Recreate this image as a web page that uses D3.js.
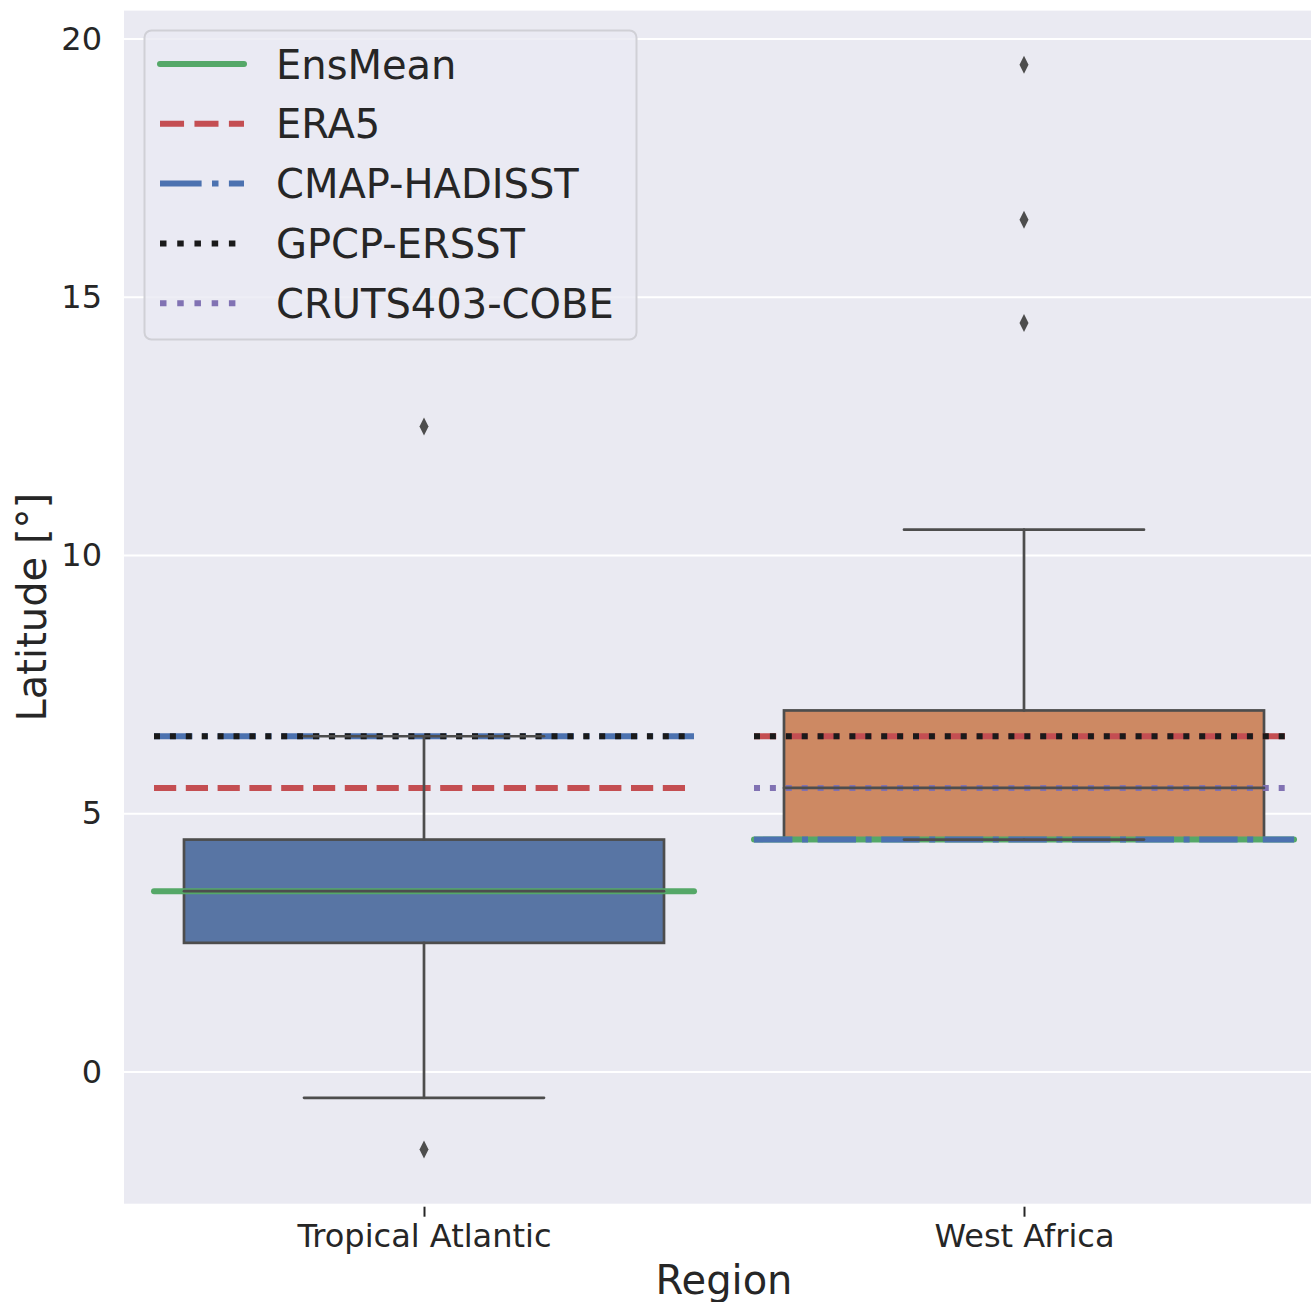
<!DOCTYPE html>
<html>
<head>
<meta charset="utf-8">
<script src="https://cdn.jsdelivr.net/npm/d3@7"></script>
<style>
  body { margin: 0; background: #fff; }
  text { font-family: "DejaVu Sans", sans-serif; fill: #262626; }
</style>
</head>
<body>
<div id="chart"></div>
<script>
// Data
const regions = ["Tropical Atlantic", "West Africa"];
const q1 = [2.5, 4.5];
const median = [3.5, 5.5];
const q3 = [4.5, 7.0];
const whiskerLow = [-0.5, 4.5];
const whiskerHigh = [6.5, 10.5];
const outliers = [[12.5, -1.5], [19.5, 16.5, 14.5]];

const datasets = ["EnsMean", "ERA5", "CMAP-HADISST", "GPCP-ERSST", "CRUTS403-COBE"];
const datasetValues = [
  [3.5, 4.5],
  [5.5, 6.5],
  [6.5, 4.5],
  [6.5, 6.5],
  [null, 5.5]
];
const yTicks = [0, 5, 10, 15, 20];

// Styles
const boxColors = ["#5875a4", "#cd8963"];
const lineColors = ["#55a868", "#c44e52", "#4c72b0", "#1a1a1a", "#8172b3"];
const lw = 6;
const dashUnits = [null, [3.7, 1.6], [6.4, 1.6, 1, 1.6], [1, 1.65], [1, 1.65]];
const dashFor = (k, s) => dashUnits[k] ? dashUnits[k].map(v => v * s).join(",") : null;
const edge = "#4d4d4d";

const width = 1311, height = 1302;
const plot = {left: 124, top: 10.6, right: 1324, bottom: 1203.7};

const svg = d3.select("#chart").append("svg")
  .attr("width", width).attr("height", height);

const x = d3.scaleLinear().domain([-0.5, 1.5]).range([plot.left, plot.right]);
const y = d3.scaleLinear().domain([-2.55, 20.55]).range([plot.bottom, plot.top]);

// background
svg.append("rect")
  .attr("x", plot.left).attr("y", plot.top)
  .attr("width", plot.right - plot.left).attr("height", plot.bottom - plot.top)
  .attr("fill", "#eaeaf2");

// grid
svg.append("g").selectAll("line").data(yTicks).join("line")
  .attr("x1", plot.left).attr("x2", plot.right)
  .attr("y1", d => y(d)).attr("y2", d => y(d))
  .attr("stroke", "#fff").attr("stroke-width", 2);

// y axis labels
const yAxis = d3.axisLeft(y).tickValues(yTicks).tickSize(0).tickPadding(22);
svg.append("g").attr("transform", `translate(${plot.left},0)`).call(yAxis)
  .call(g => g.select(".domain").remove())
  .call(g => g.selectAll("text").style("font-size", "32px").attr("fill", "#262626")
    .style("font-family", "DejaVu Sans, sans-serif"));

// x axis
const xAxis = d3.axisBottom(x).tickValues([0, 1]).tickFormat(i => regions[i]).tickSize(10).tickPadding(8);
svg.append("g").attr("transform", `translate(0,${plot.bottom + 3})`).call(xAxis)
  .call(g => g.select(".domain").remove())
  .call(g => g.selectAll("line").attr("stroke", "#262626").attr("stroke-width", 2))
  .call(g => g.selectAll("text").style("font-size", "32px").attr("fill", "#262626")
    .style("font-family", "DejaVu Sans, sans-serif"));

// axis titles
svg.append("text")
  .attr("x", (plot.left + plot.right) / 2).attr("y", 1294)
  .attr("text-anchor", "middle").style("font-size", "40px")
  .text("Region");
svg.append("text")
  .attr("transform", `translate(46,${(plot.top + plot.bottom) / 2}) rotate(-90)`)
  .attr("text-anchor", "middle").style("font-size", "40px")
  .text("Latitude [°]");

const boxHalf = 0.4, capHalf = 0.2, lineHalf = 0.45;

// boxes (patches go below the lines)
svg.append("g").selectAll("rect").data(regions).join("rect")
  .attr("x", (d, i) => x(i - boxHalf))
  .attr("width", (d, i) => x(i + boxHalf) - x(i - boxHalf))
  .attr("y", (d, i) => y(q3[i]))
  .attr("height", (d, i) => y(q1[i]) - y(q3[i]))
  .attr("fill", (d, i) => boxColors[i])
  .attr("stroke", edge).attr("stroke-width", 2.7);

// dataset horizontal lines
const hl = svg.append("g");
datasets.forEach((name, k) => {
  datasetValues[k].forEach((v, i) => {
    if (v == null) return;
    hl.append("line")
      .attr("x1", x(i - lineHalf)).attr("x2", x(i + lineHalf))
      .attr("y1", y(v)).attr("y2", y(v))
      .attr("stroke", lineColors[k]).attr("stroke-width", lw)
      .attr("stroke-linecap", dashUnits[k] ? "butt" : "round")
      .attr("stroke-dasharray", dashFor(k, lw));
  });
});

// whiskers, caps, medians
const bx = svg.append("g").attr("stroke", edge).attr("stroke-width", 2.7).attr("stroke-linecap", "round");
regions.forEach((r, i) => {
  bx.append("line").attr("x1", x(i)).attr("x2", x(i)).attr("y1", y(q3[i])).attr("y2", y(whiskerHigh[i]));
  bx.append("line").attr("x1", x(i)).attr("x2", x(i)).attr("y1", y(q1[i])).attr("y2", y(whiskerLow[i]));
  [whiskerLow[i], whiskerHigh[i]].forEach(w => {
    bx.append("line").attr("x1", x(i - capHalf)).attr("x2", x(i + capHalf)).attr("y1", y(w)).attr("y2", y(w));
  });
  bx.append("line").attr("x1", x(i - boxHalf)).attr("x2", x(i + boxHalf))
    .attr("y1", y(median[i])).attr("y2", y(median[i]));
});

// outliers (thin diamonds)
const fl = svg.append("g").attr("fill", edge);
outliers.forEach((vals, i) => {
  vals.forEach(v => {
    const cx = x(i), cy = y(v);
    fl.append("path").attr("d", `M${cx},${cy - 9}L${cx + 4.5},${cy}L${cx},${cy + 9}L${cx - 4.5},${cy}Z`);
  });
});

// legend
const lg = svg.append("g");
lg.append("rect")
  .attr("x", 144.5).attr("y", 30.5).attr("width", 492).attr("height", 309).attr("rx", 7)
  .attr("fill", "#eaeaf2").attr("fill-opacity", 0.8)
  .attr("stroke", "#d0d0d6").attr("stroke-width", 2);
datasets.forEach((name, k) => {
  const cy = 64 + k * 59.8;
  lg.append("line")
    .attr("x1", 160).attr("x2", 244).attr("y1", cy).attr("y2", cy)
    .attr("stroke", lineColors[k]).attr("stroke-width", lw)
    .attr("stroke-linecap", dashUnits[k] ? "butt" : "round")
    .attr("stroke-dasharray", dashFor(k, 6.5));
  lg.append("text").attr("x", 276).attr("y", cy + 14.5)
    .style("font-size", "40px").text(name);
});
</script>
</body>
</html>
